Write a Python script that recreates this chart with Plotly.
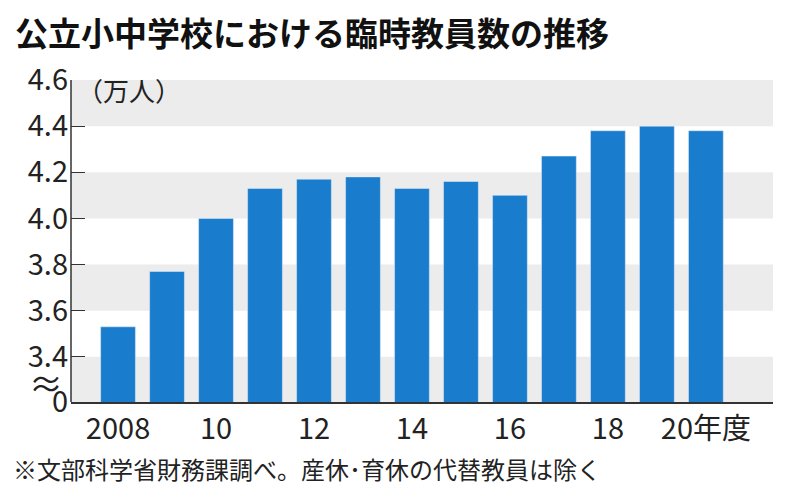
import plotly.graph_objects as go

years = list(range(2008, 2021))
values = [3.53, 3.77, 4.00, 4.13, 4.17, 4.18, 4.13, 4.16, 4.10, 4.27, 4.38, 4.40, 4.38]
ytick_vals = [3.204, 3.4, 3.6, 3.8, 4.0, 4.2, 4.4, 4.6]
ytick_text = ["0", "3.4", "3.6", "3.8", "4.0", "4.2", "4.4", "4.6"]
xtick_vals = [2008, 2010, 2012, 2014, 2016, 2018, 2020]
xtick_text = ["2008", "10", "12", "14", "16", "18", "20年度"]
bands = [(4.4, 4.6), (4.0, 4.2), (3.6, 3.8), (3.204, 3.4)]

F = "Noto Sans CJK JP"
W, H = 702, 322
fig = go.Figure(go.Bar(x=years, y=values, marker_color="#1a7ccc", width=0.71))
shapes = [dict(type="rect", xref="paper", yref="y", x0=0, x1=1, y0=a, y1=b,
               fillcolor="#ececec", line_width=0, layer="below") for a, b in bands]
shapes.append(dict(type="line", xref="paper", yref="paper", x0=0, x1=0, y0=0, y1=1,
                   line=dict(color="#333", width=1.5)))
fig.update_layout(
    width=800, height=485, plot_bgcolor="white", paper_bgcolor="white",
    margin=dict(l=63, r=35, t=72, b=91, autoexpand=False), showlegend=False, shapes=shapes,
    font=dict(family=F, color="#222"),
    xaxis=dict(range=[2007.04, 2021.37], tickvals=xtick_vals, ticktext=xtick_text,
               tickfont=dict(size=29), showgrid=False, showline=True, linecolor="#333",
               linewidth=1.5, ticks="", zeroline=False, automargin=False),
    yaxis=dict(range=[3.204, 4.6], tickvals=ytick_vals, ticktext=ytick_text,
               tickfont=dict(size=29), showgrid=False, ticks="inside", ticklen=14,
               tickcolor="#333", zeroline=False, showline=False, automargin=False,
               ticklabelstandoff=2),
    annotations=[
        dict(text="<b>公立小中学校における臨時教員数の推移</b>", x=-58/W, y=1+74/H,
             xref="paper", yref="paper", showarrow=False, font=dict(size=33, color="#111"),
             xanchor="left", yanchor="top"),
        dict(text="（万人）", x=0.005, y=1.035, xref="paper", yref="paper", showarrow=False,
             font=dict(size=26), xanchor="left", yanchor="top"),
        dict(text="※文部科学省財務課調べ。産休･育休の代替教員は除く", x=-60/W, y=-86/H,
             xref="paper", yref="paper", showarrow=False, font=dict(size=24),
             xanchor="left", yanchor="bottom"),
        dict(text="≈", x=-25/W, y=3.29, xref="paper", yref="y", showarrow=False,
             font=dict(size=34), xanchor="center", yanchor="middle"),
    ],
)
fig.write_html("out.html")
